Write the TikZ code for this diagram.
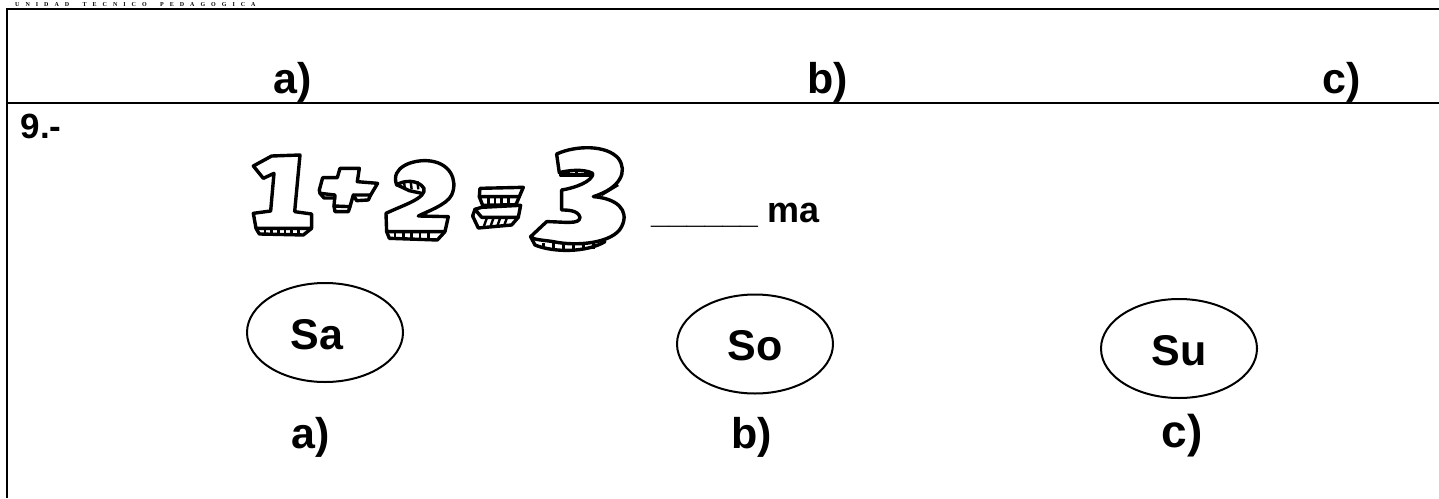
\documentclass[tikz,border=0pt]{standalone}
\usepackage{fontspec}
\setmainfont{Liberation Sans}
\newfontfamily\serifhead[LetterSpace=100]{Liberation Serif}
\usetikzlibrary{shapes.geometric}
\tikzset{
  rule/.style={line width=2.4pt,black},
  big/.style={inner sep=0pt,anchor=base,font=\fontsize{43}{46}\selectfont\bfseries},
  large/.style={inner sep=0pt,anchor=base,font=\fontsize{46}{50}\selectfont\bfseries},
  mid/.style={inner sep=0pt,anchor=base west,font=\fontsize{35}{40}\selectfont\bfseries},
  small/.style={inner sep=0pt,anchor=base west,font=\fontsize{36}{40}\selectfont\bfseries},
  syl/.style={inner sep=0pt,anchor=base,font=\fontsize{43}{46}\selectfont\bfseries},
  oval/.style={draw,line width=2pt,ellipse,minimum width=156pt,minimum height=99pt,inner sep=0pt},
  ink/.style={line width=3.4pt,line join=round,line cap=round},
  hatch/.style={line width=2.4pt},
}
\begin{document}
\begin{tikzpicture}[x=1pt,y=-1pt]
\useasboundingbox (0,0) rectangle (1439,498);
\fill[white] (0,0) rectangle (1439,498);
\node[inner sep=0pt,anchor=base west,font=\fontsize{6}{7}\selectfont\bfseries\serifhead] (head) at (15,6) {UNIDAD\hspace{6pt} TECNICO\hspace{6pt} PEDAGOGICA};
\coordinate (tl) at (7,9); \coordinate (tr) at (1439,9);
\coordinate (bl) at (7,498);
\coordinate (ml) at (7,103); \coordinate (mr) at (1439,103);
\draw[rule] (bl) -- (tl) -- (tr);
\draw[rule] (ml) -- (mr);
\node[big] (a1) at (293,93) {a)};
\node[big] (b1) at (828,93) {b)};
\node[big] (c1) at (1342,93) {c)};
\node[mid] (q) at (20.5,138) {9.-};
\node[small] (ma) at (767,222.5) {ma};
\node[inner sep=0pt,anchor=base west,font=\fontsize{32}{36}\selectfont\bfseries] (blank) at (651,223) {\_\_\_\_\_\_};
\node[oval] (sa) at (325,332.5) {};
\node[syl] (tsa) at (317,349.5) {Sa};
\node[oval] (so) at (755,344) {};
\node[syl] (tso) at (755,360.5) {So};
\node[oval] (su) at (1179,348.5) {};
\node[syl] (tsu) at (1179,365.5) {Su};
\node[big] (a2) at (310.5,448) {a)};
\node[big] (b2) at (752,448) {b)};
\node[large] (c2) at (1182,447) {c)};
\begin{scope}[shift={(200,130)},x=0.3333pt,y=-0.3333pt]
% one
\draw[ink] (160,108) -- (215,78) -- (300,75) -- (284,245) -- (335,252) -- (335,295) -- (168,295) -- (160,250) -- (212,243) -- (222,130) -- (190,145) -- cycle;
\draw[ink] (168,295) -- (178,312) -- (310,315) -- (335,295);
\foreach \x in {195,215,235,255,275,295} \draw[hatch] (\x,298) -- (\x,312);
% plus
\draw[ink] (358,180) -- (368,143) -- (412,143) -- (420,115) -- (478,115) -- (472,155) -- (533,160) -- (512,195) -- (460,195) -- (450,230) -- (402,228) -- (405,195) -- (360,190) -- cycle;
\draw[ink] (402,228) -- (405,245) -- (445,245) -- (450,230);
\draw[ink] (360,190) -- (372,204) -- (405,204);
\draw[ink] (460,195) -- (470,212) -- (505,210) -- (512,195);
% two
\draw[ink] (590,165) .. controls (570,110) and (640,90) .. (680,92) .. controls (750,95) and (775,150) .. (755,195) .. controls (740,225) and (680,245) .. (655,258) -- (745,260) -- (735,305) -- (560,305) -- (558,250) .. controls (610,225) and (680,205) .. (672,175) .. controls (655,148) and (610,150) .. (590,165) -- cycle;
\draw[ink] (560,305) -- (568,325) -- (712,330) -- (735,305);
\draw[ink] (592,165) -- (628,182) -- (665,190);
\foreach \x in {585,610,635,660,685} \draw[hatch] (\x,310) -- (\x,325);
\foreach \x in {612,632,652} \draw[hatch] (\x,154) -- (\x+3,178);
% equals
\draw[ink] (840,175) -- (970,172) -- (958,200) -- (838,200) -- cycle;
\draw[ink] (838,200) -- (848,226) -- (948,224) -- (958,200);
\foreach \x in {865,885,905,925} \draw[hatch] (\x,204) -- (\x,222);
\draw[ink] (845,232) -- (962,226) -- (955,262) -- (845,262) -- (825,238) -- cycle;
\draw[ink] (818,258) -- (835,294) -- (935,285) -- (955,262);
\draw[ink] (818,258) -- (825,238);
\foreach \x in {860,880,900,920} \draw[hatch] (\x,266) -- (\x-8,288);
% three
\draw[ink] (1070,72) .. controls (1130,45) and (1220,45) .. (1255,85) .. controls (1285,125) and (1260,175) .. (1180,200) .. controls (1250,205) and (1290,240) .. (1265,290) .. controls (1240,340) and (1130,350) .. (1060,335) .. controls (1030,330) and (1000,330) .. (992,320) -- (1040,275) .. controls (1090,275) and (1140,285) .. (1140,262) .. controls (1135,240) and (1100,240) .. (1085,240) -- (1085,180) .. controls (1120,175) and (1180,155) .. (1178,130) .. controls (1150,115) and (1100,122) .. (1078,128) -- cycle;
\draw[ink] (992,320) -- (1005,345) .. controls (1060,368) and (1160,368) .. (1215,335);
\draw[ink] (1082,135) -- (1178,135);
\foreach \x in {1030,1060,1090,1120,1150,1180} \draw[hatch] (\x,340) -- (\x,358);
\foreach \x in {1105,1130,1155} \draw[hatch] (\x,122) -- (\x,135);
\draw[hatch] (1205,195) -- (1255,165);
\end{scope}
\end{tikzpicture}
\end{document}
